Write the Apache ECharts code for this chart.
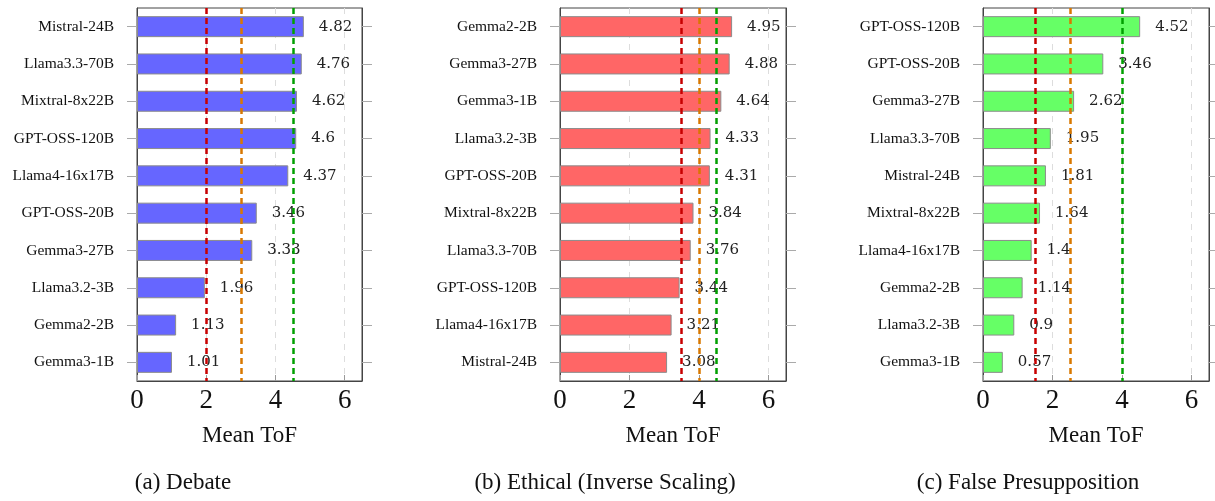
<!DOCTYPE html>
<html>
<head>
<meta charset="utf-8">
<script src="https://cdn.jsdelivr.net/npm/echarts@6/dist/echarts.min.js"></script>
<style>
html,body{margin:0;padding:0;background:#fff;}
#chart{width:1215px;height:501px;}
</style>
</head>
<body>
<div id="chart"></div>
<script>
// Panel (a) Debate
const debateModels = ['Mistral-24B','Llama3.3-70B','Mixtral-8x22B','GPT-OSS-120B','Llama4-16x17B','GPT-OSS-20B','Gemma3-27B','Llama3.2-3B','Gemma2-2B','Gemma3-1B'];
const debateValues = [4.82,4.76,4.62,4.6,4.37,3.46,3.33,1.96,1.13,1.01];
const debateThresholds = [2,3,4.5];
// Panel (b) Ethical (Inverse Scaling)
const ethicalModels = ['Gemma2-2B','Gemma3-27B','Gemma3-1B','Llama3.2-3B','GPT-OSS-20B','Mixtral-8x22B','Llama3.3-70B','GPT-OSS-120B','Llama4-16x17B','Mistral-24B'];
const ethicalValues = [4.95,4.88,4.64,4.33,4.31,3.84,3.76,3.44,3.21,3.08];
const ethicalThresholds = [3.5,4,4.5];
// Panel (c) False Presupposition
const falseModels = ['GPT-OSS-120B','GPT-OSS-20B','Gemma3-27B','Llama3.3-70B','Mistral-24B','Mixtral-8x22B','Llama4-16x17B','Gemma2-2B','Llama3.2-3B','Gemma3-1B'];
const falseValues = [4.52,3.46,2.62,1.95,1.81,1.64,1.4,1.14,0.9,0.57];
const falseThresholds = [1.5,2.5,4];

const xTicks = [0,2,4,6];
const xAxisName = 'Mean ToF';
const captions = ['(a) Debate','(b) Ethical (Inverse Scaling)','(c) False Presupposition'];

const panels = [
  {models: debateModels, values: debateValues, th: debateThresholds, color: '#6666ff', left: 137, width: 225, capX: 183},
  {models: ethicalModels, values: ethicalValues, th: ethicalThresholds, color: '#ff6666', left: 560, width: 226, capX: 605},
  {models: falseModels, values: falseValues, th: falseThresholds, color: '#66ff66', left: 983, width: 226, capX: 1028}
];
const thColors = ['#c80000','#d97800','#00a000'];
const serif = 'Liberation Serif';

const grid = [], xAxis = [], yAxis = [], series = [], graphic = [];
panels.forEach((p, i) => {
  grid.push({left: p.left, width: p.width, top: 8, height: 373, show: true, borderColor: '#444', borderWidth: 1, backgroundColor: 'transparent'});
  xAxis.push({
    type: 'value', gridIndex: i, min: 0, max: 6.5, interval: 2,
    name: xAxisName, nameLocation: 'middle', nameGap: 43,
    nameTextStyle: {fontFamily: serif, fontSize: 23, color: '#111'},
    axisLine: {show: true, lineStyle: {color: '#444'}},
    axisTick: {show: true, inside: true, length: 6, lineStyle: {color: '#999'}, customValues: xTicks},
    axisLabel: {fontFamily: serif, fontSize: 27, color: '#111', margin: 6, customValues: xTicks},
    splitLine: {show: true, lineStyle: {color: '#dddddd', type: [6, 6], width: 1}}
  });
  yAxis.push({
    type: 'category', gridIndex: i, data: p.models, inverse: true,
    axisLine: {show: true, lineStyle: {color: '#444'}},
    axisTick: {show: true, alignWithLabel: true, length: 10, lineStyle: {color: '#aaa'}},
    axisLabel: {fontFamily: serif, fontSize: 15.5, color: '#111', margin: 23}
  });
  yAxis.push({
    type: 'category', gridIndex: i, data: p.models, inverse: true, position: 'right',
    axisLine: {show: true, lineStyle: {color: '#444'}},
    axisTick: {show: true, alignWithLabel: true, length: 10, lineStyle: {color: '#aaa'}},
    axisLabel: {show: false}
  });
  series.push({
    type: 'bar', xAxisIndex: i, yAxisIndex: i * 2, data: p.values, barWidth: 21,
    itemStyle: {color: p.color, borderColor: '#8c8c8c', borderWidth: 1},
    label: {show: true, position: 'right', distance: 15, fontFamily: 'DejaVu Serif', fontSize: 15, color: '#222'},
    markLine: {
      silent: true, symbol: 'none', label: {show: false},
      data: p.th.map((v, k) => ({xAxis: v, lineStyle: {color: thColors[k], type: [6, 4], width: 2.5}}))
    }
  });
  graphic.push({type: 'text', x: p.capX, y: 483, style: {text: captions[i], fill: '#111', font: '23px "Liberation Serif"', textAlign: 'center', textVerticalAlign: 'middle'}});
});

const chart = echarts.init(document.getElementById('chart'));
chart.setOption({animation: false, grid, xAxis, yAxis, series, graphic});
</script>
</body>
</html>
